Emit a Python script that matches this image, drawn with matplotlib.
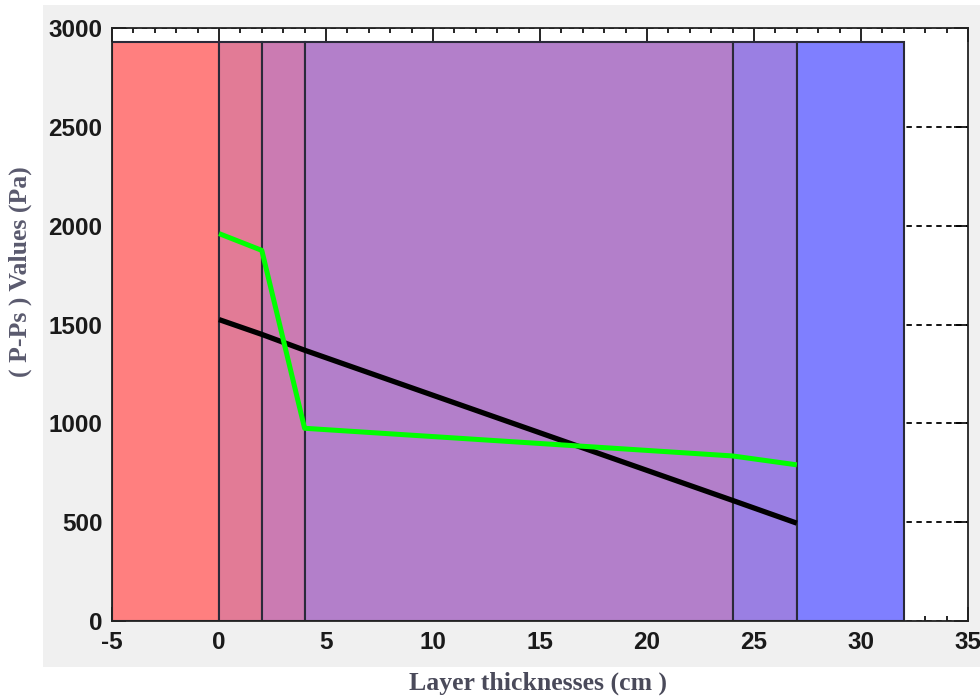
import numpy as np
import matplotlib.pyplot as plt
from matplotlib.patches import Rectangle

plt.rcParams['axes.unicode_minus'] = False

# layer boundaries (cm) and colours of the layers
layer_edges = [-5, 0, 2, 4, 24, 27, 32]
layer_colors = ['#ff7f7f', '#e27b96', '#cb7bb2', '#b37fca', '#9a7fe3', '#7f7fff']
layer_top = 2930

# pressure curves at the layer boundaries
x_pts = [0, 2, 4, 24, 27]
black_vals = [1525, 1450, 1370, 610, 495]
green_vals = [1960, 1875, 975, 835, 790]

fig = plt.figure(figsize=(9.8, 6.99), dpi=100)
fig.patch.set_facecolor('white')
fig.patches.append(Rectangle((43 / 980, 1 - 667 / 699), 1, 662 / 699,
                             transform=fig.transFigure, facecolor='#f0f0f0',
                             edgecolor='none', zorder=-5))

ax = fig.add_axes([112 / 980, 1 - 621 / 699, 856 / 980, 593 / 699])
ax.set_facecolor('white')

lefts = layer_edges[:-1]
widths = np.diff(layer_edges)
ax.bar(lefts, [layer_top] * len(lefts), width=widths, align='edge',
       color=layer_colors, edgecolor='#2a2a3a', linewidth=1.5, zorder=2)

ax.plot(x_pts, black_vals, color='black', lw=3.8, zorder=3, solid_capstyle='butt')
ax.plot(x_pts, green_vals, color='#00ff00', lw=3.6, zorder=4, solid_capstyle='butt')

ax.set_xlim(-5, 35)
ax.set_ylim(0, 3000)
ax.set_xticks(np.arange(-5, 36, 5))
ax.set_xticks(np.arange(-5, 36, 1), minor=True)
ax.set_yticks(np.arange(0, 3001, 500))

ax.grid(axis='y', color='black', linestyle=(0, (3, 2.5)), linewidth=1.3, zorder=1)
ax.set_axisbelow(True)

ax.tick_params(axis='both', which='major', direction='in', length=10, width=1.2,
               top=True, right=True, labelsize=17.5, pad=7, labelcolor='#1a1a1a')
ax.tick_params(axis='both', which='minor', direction='in', length=3.5, width=1.2,
               top=True, right=True)
ax.tick_params(axis='y', which='minor', left=False, right=False)
for lab in ax.get_xticklabels() + ax.get_yticklabels():
    lab.set_fontfamily('Liberation Sans')
    lab.set_fontweight('bold')
for sp in ax.spines.values():
    sp.set_linewidth(1.3)
    sp.set_color('#222222')
    sp.set_zorder(5)

fig.text(538 / 980, 1 - 683 / 699, 'Layer thicknesses (cm )', ha='center', va='center',
         fontsize=18.5, family='Liberation Serif', fontweight='bold', color='#4a4a5a')
fig.text(20 / 980, 1 - 272 / 699, '( P-Ps ) Values (Pa)', ha='center', va='center',
         rotation=90, fontsize=18.5, family='Liberation Serif', fontweight='bold',
         color='#5a5a6e')

fig.savefig('out.png', dpi=100)
